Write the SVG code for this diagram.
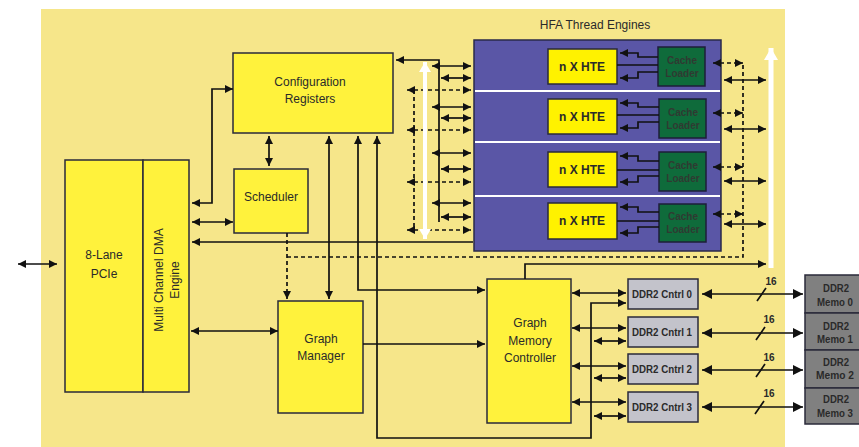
<svg xmlns="http://www.w3.org/2000/svg" width="859" height="447" viewBox="0 0 859 447">
<style>
.bg{fill:#F6E68A}
.box{fill:#FFF23C;stroke:#2A2A3A;stroke-width:1.5}
.hte{fill:#FFF200;stroke:#2A2A3A;stroke-width:1.5}
.cl{fill:#0F6B3B;stroke:#1E1E3A;stroke-width:1.5}
.cn{fill:#C3C3CB;stroke:#2A2A3A;stroke-width:1.5}
.mm{fill:#808080;stroke:#2A2A3A;stroke-width:1.5}
.pu{fill:#5A56A6;stroke:#2A2A4A;stroke-width:1.5}
.sep{stroke:#fff;stroke-width:2}
.t{font-family:"Liberation Sans",Arial,sans-serif;font-size:12px;fill:#2A2A2A;text-anchor:middle}
.tb{font-weight:bold}
.ct{font-family:"Liberation Sans",Arial,sans-serif;font-size:10px;font-weight:bold;fill:#2F3A32;text-anchor:middle}
.dt{font-family:"Liberation Sans",Arial,sans-serif;font-size:10px;font-weight:bold;fill:#2A2A2A;text-anchor:middle}
.l{fill:none;stroke:#111;stroke-width:1.7}
.d{stroke-dasharray:4 3}
.b{marker-start:url(#a);marker-end:url(#a)}
.e{marker-end:url(#a)}
.bb{marker-start:url(#ab);marker-end:url(#ab)}
.w{fill:none;stroke:#fff}
</style>
<defs>
<marker id="a" viewBox="0 0 8 8" refX="8" refY="4" markerWidth="8" markerHeight="8" markerUnits="userSpaceOnUse" orient="auto-start-reverse"><path d="M0,0 L8,4 L0,8 z" fill="#111"/></marker>
<marker id="ab" viewBox="0 0 10 10" refX="10" refY="5" markerWidth="10" markerHeight="10" markerUnits="userSpaceOnUse" orient="auto-start-reverse"><path d="M0,0 L10,5 L0,10 z" fill="#111"/></marker>
<marker id="wa" viewBox="0 0 10 12" refX="10" refY="6" markerWidth="10" markerHeight="12" markerUnits="userSpaceOnUse" orient="auto-start-reverse"><path d="M0,0 L10,6 L0,12 z" fill="#fff"/></marker>
<marker id="wb" viewBox="0 0 12 14" refX="12" refY="7" markerWidth="12" markerHeight="14" markerUnits="userSpaceOnUse" orient="auto-start-reverse"><path d="M0,0 L12,7 L0,14 z" fill="#fff"/></marker>
</defs>
<rect x="0" y="0" width="859" height="447" fill="#fff"/>
<rect class="bg" x="41" y="9" width="744" height="438"/>
<text class="t" x="595" y="29" font-size="13">HFA Thread Engines</text>

<g id="hfa">
<rect class="pu" x="474" y="40" width="247" height="211"/>
<line class="sep" x1="475" y1="91" x2="720" y2="91"/>
<line class="sep" x1="475" y1="142" x2="720" y2="142"/>
<line class="sep" x1="475" y1="196" x2="720" y2="196"/>
</g>
<g id="hte0"><rect class="hte" x="548" y="49" width="69" height="35"/><text class="t tb" x="582" y="71">n X HTE</text></g>
<g id="hte1"><rect class="hte" x="548" y="99" width="69" height="35"/><text class="t tb" x="582" y="121">n X HTE</text></g>
<g id="hte2"><rect class="hte" x="548" y="152" width="69" height="35"/><text class="t tb" x="582" y="174">n X HTE</text></g>
<g id="hte3"><rect class="hte" x="548" y="203" width="69" height="36"/><text class="t tb" x="582" y="225">n X HTE</text></g>
<g id="cache0"><rect class="cl" x="658" y="47" width="47" height="39"/><text class="ct" x="682" y="64">Cache</text><text class="ct" x="682" y="77">Loader</text></g>
<g id="cache1"><rect class="cl" x="659" y="99" width="47" height="39"/><text class="ct" x="683" y="116">Cache</text><text class="ct" x="683" y="129">Loader</text></g>
<g id="cache2"><rect class="cl" x="659" y="152" width="47" height="39"/><text class="ct" x="683" y="169">Cache</text><text class="ct" x="683" y="182">Loader</text></g>
<g id="cache3"><rect class="cl" x="659" y="204" width="47" height="38"/><text class="ct" x="683" y="220">Cache</text><text class="ct" x="683" y="233">Loader</text></g>

<g id="pcie"><rect class="box" x="65" y="160" width="78" height="232"/><text class="t" x="104" y="259" font-size="13">8-Lane</text><text class="t" x="104" y="278" font-size="13">PCIe</text></g>
<g id="dma"><rect class="box" x="143" y="160" width="46" height="232"/><text class="t" transform="translate(163,280) rotate(-90)">Multi Channel DMA</text><text class="t" transform="translate(179,280) rotate(-90)">Engine</text></g>
<g id="config"><rect class="box" x="233" y="53" width="160" height="80"/><text class="t" x="310" y="86">Configuration</text><text class="t" x="310" y="103">Registers</text></g>
<g id="scheduler"><rect class="box" x="234" y="169" width="74" height="64"/><text class="t" x="271" y="201">Scheduler</text></g>
<g id="graphmgr"><rect class="box" x="278" y="301" width="85" height="112"/><text class="t" x="321" y="343">Graph</text><text class="t" x="321" y="360">Manager</text></g>
<g id="gmc"><rect class="box" x="487" y="279" width="84" height="144"/><text class="t" x="530" y="327">Graph</text><text class="t" x="530" y="345">Memory</text><text class="t" x="530" y="362">Controller</text></g>

<g id="cntrl0"><rect class="cn" x="628" y="279" width="70" height="30"/><text class="dt" x="662" y="298" textLength="60" lengthAdjust="spacingAndGlyphs">DDR2 Cntrl 0</text></g>
<g id="cntrl1"><rect class="cn" x="628" y="317" width="70" height="30"/><text class="dt" x="662" y="336" textLength="60" lengthAdjust="spacingAndGlyphs">DDR2 Cntrl 1</text></g>
<g id="cntrl2"><rect class="cn" x="628" y="354" width="70" height="30"/><text class="dt" x="662" y="373" textLength="60" lengthAdjust="spacingAndGlyphs">DDR2 Cntrl 2</text></g>
<g id="cntrl3"><rect class="cn" x="628" y="392" width="70" height="30"/><text class="dt" x="662" y="411" textLength="60" lengthAdjust="spacingAndGlyphs">DDR2 Cntrl 3</text></g>
<g id="memo0"><rect class="mm" x="805" y="275" width="60" height="38"/><text class="dt" x="836" y="292" textLength="26" lengthAdjust="spacingAndGlyphs">DDR2</text><text class="dt" x="835" y="306" textLength="36" lengthAdjust="spacingAndGlyphs">Memo 0</text></g>
<g id="memo1"><rect class="mm" x="805" y="313" width="60" height="37"/><text class="dt" x="836" y="330" textLength="26" lengthAdjust="spacingAndGlyphs">DDR2</text><text class="dt" x="835" y="343" textLength="36" lengthAdjust="spacingAndGlyphs">Memo 1</text></g>
<g id="memo2"><rect class="mm" x="805" y="350" width="60" height="38"/><text class="dt" x="836" y="366" textLength="26" lengthAdjust="spacingAndGlyphs">DDR2</text><text class="dt" x="835" y="379" textLength="38" lengthAdjust="spacingAndGlyphs">Memo  2</text></g>
<g id="memo3"><rect class="mm" x="805" y="388" width="60" height="36"/><text class="dt" x="836" y="403" textLength="26" lengthAdjust="spacingAndGlyphs">DDR2</text><text class="dt" x="835" y="417" textLength="36" lengthAdjust="spacingAndGlyphs">Memo 3</text></g>

<g id="connectors">
<path class="l b" d="M18,264 H57"/>
<path class="l b" d="M192,203 H212 V89 H233"/>
<path class="l b" d="M192,222 H233"/>
<path class="l e" d="M473,242 H192"/>
<path class="l b" d="M191,331 H278"/>
<path class="l b" d="M269,136 V166"/>
<path class="l d e" d="M287,233 V299"/>
<path class="l d" d="M287,257 H743 V63"/>
<path class="l b" d="M329,136 V299"/>
<path class="l b" d="M358,136 V290 H485"/>
<path class="l b" d="M377,136 V438 H591 V303 H626"/>
<path class="l e" d="M363,344 H485"/>
<path class="l e" d="M525,279 V264 H766"/>
<path class="l e" d="M439,222 V60 H396"/>
<path class="l b" d="M432,66 H471"/><path class="l b" d="M441,78 H471"/><path class="l d b" d="M407,90 H471"/>
<path class="l b" d="M432,107 H471"/><path class="l b" d="M441,118 H471"/><path class="l d b" d="M407,130 H471"/>
<path class="l b" d="M432,153 H471"/><path class="l b" d="M441,169 H471"/><path class="l d b" d="M407,182 H471"/>
<path class="l b" d="M432,203 H471"/><path class="l b" d="M441,217 H471"/><path class="l d b" d="M407,230 H471"/>
<path class="l d" d="M414,90 V230"/>
<path class="w" stroke-width="4" marker-start="url(#wa)" marker-end="url(#wa)" d="M425,239 V62"/>
<path class="w" stroke-width="5" marker-end="url(#wb)" d="M771,268 V48"/>
<path class="l d b" d="M713,63 H743"/><path class="l b" d="M724,80 H766"/>
<path class="l d b" d="M713,113 H743"/><path class="l b" d="M724,129 H766"/>
<path class="l d b" d="M713,167 H743"/><path class="l b" d="M724,181 H766"/>
<path class="l d b" d="M713,214 H743"/><path class="l b" d="M724,224 H766"/>
<path class="l e" d="M658,57 H638 V53 H620"/><path class="l" d="M617,65 H658"/><path class="l e" d="M658,72 H638 V78 H620"/>
<path class="l e" d="M659,107 H638 V103 H620"/><path class="l" d="M617,115 H659"/><path class="l e" d="M659,122 H638 V128 H620"/>
<path class="l e" d="M659,161 H638 V156 H620"/><path class="l" d="M617,170 H659"/><path class="l e" d="M659,176 H638 V182 H620"/>
<path class="l e" d="M659,212 H638 V207 H620"/><path class="l" d="M617,221 H659"/><path class="l e" d="M659,227 H638 V233 H620"/>
<path class="l b" d="M572,293 H626"/><path class="l b" d="M572,328 H626"/><path class="l b" d="M572,366 H626"/><path class="l b" d="M572,402 H626"/>
<path class="l b" d="M594,341 H626"/><path class="l b" d="M594,378 H626"/><path class="l b" d="M594,416 H626"/>
<path class="l bb" d="M702,294 H803"/><path class="l bb" d="M702,333 H803"/><path class="l bb" d="M702,370 H803"/><path class="l bb" d="M702,407 H803"/>
<path class="l" d="M757,301 L766,288 M756,340 L765,327 M756,377 L765,364 M755,414 L764,401"/>
<text class="dt" x="771" y="285">16</text>
<text class="dt" x="769" y="323">16</text>
<text class="dt" x="769" y="361">16</text>
<text class="dt" x="769" y="397">16</text>
</g>
</svg>
